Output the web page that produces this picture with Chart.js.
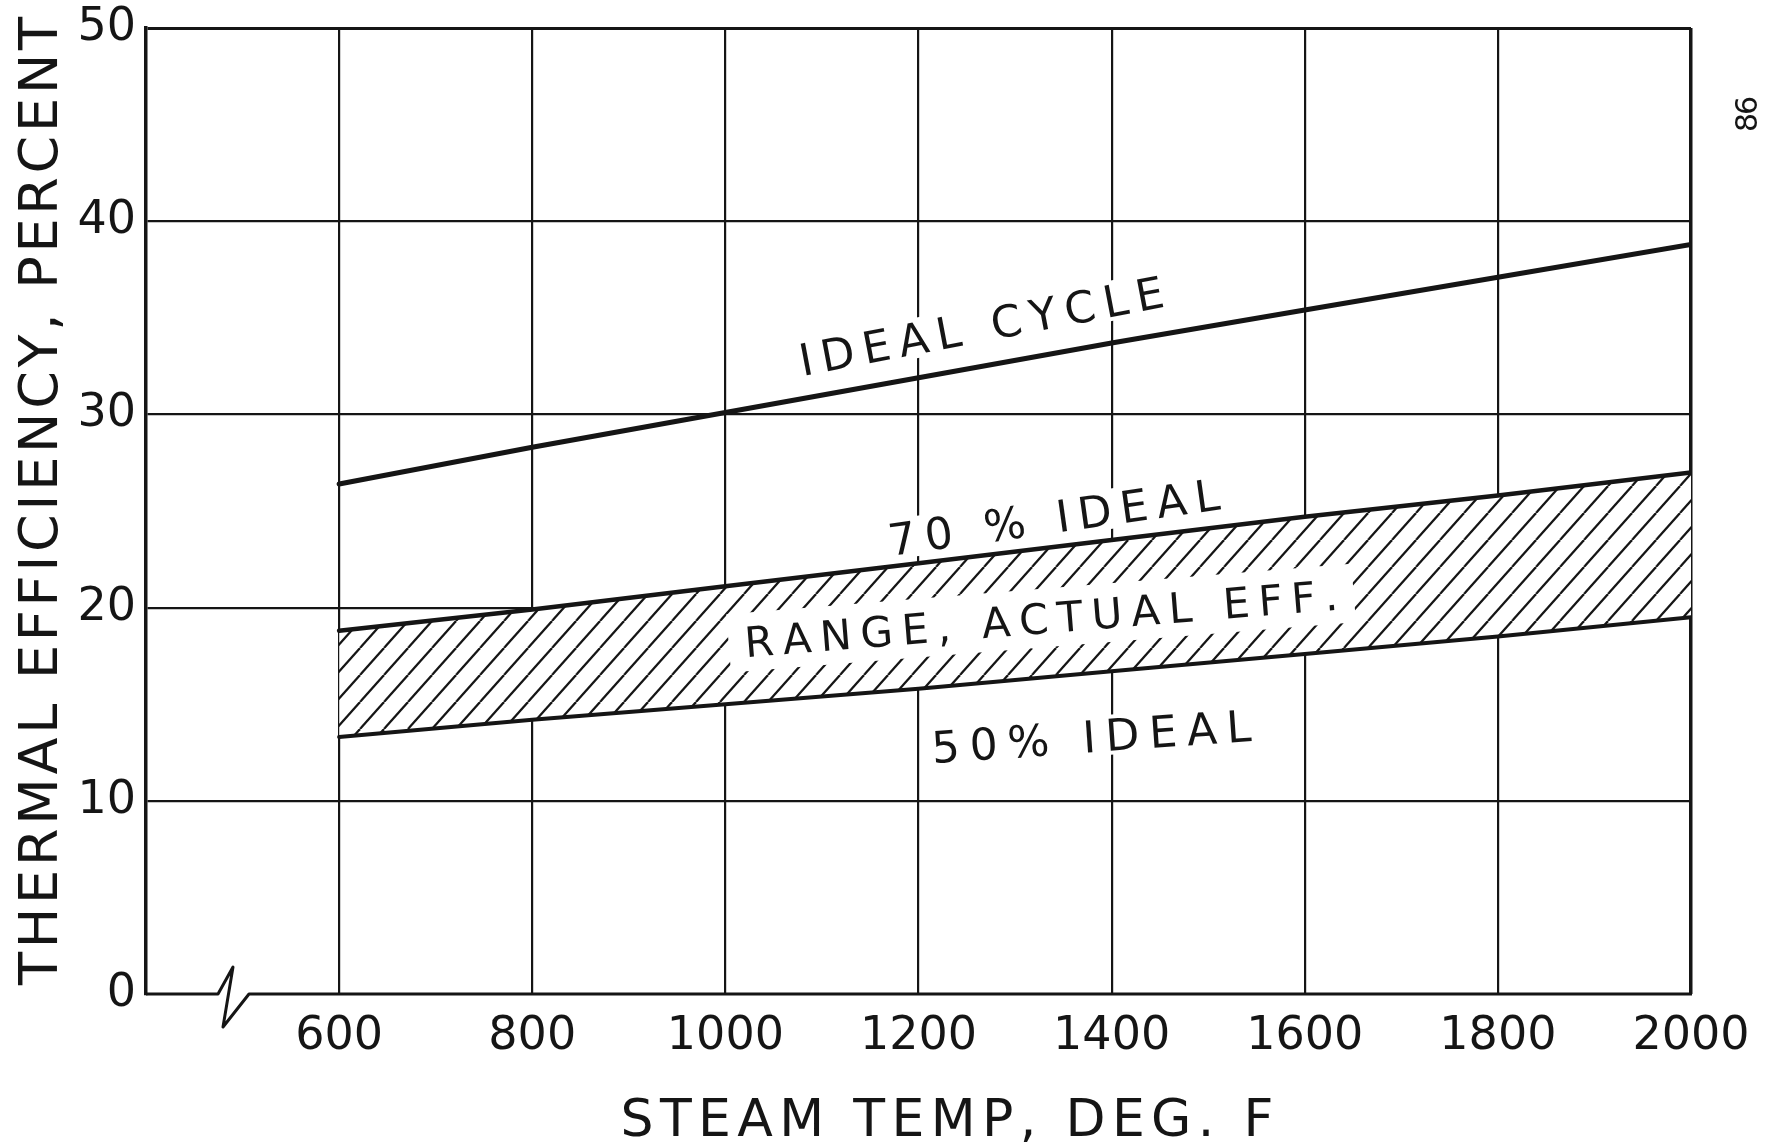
<!DOCTYPE html>
<html>
<head>
<meta charset="utf-8">
<script src="https://cdn.jsdelivr.net/npm/chart.js@4.4.1/dist/chart.umd.min.js"></script>
<style>
  html, body { margin: 0; padding: 0; background: #fff; }
  #wrap { width: 1776px; height: 1145px; }
</style>
</head>
<body>
<div id="wrap"><canvas id="chart" width="1776" height="1145"></canvas></div>
<script>
// steam temperature, deg F
const steamTemps = [600, 800, 1000, 1200, 1400, 1600, 1800, 2000];
// thermal efficiency, percent
const idealCycle = [26.4, 28.3, 30.1, 31.9, 33.7, 35.4, 37.1, 38.8];
const ideal70    = [18.8, 19.9, 21.1, 22.3, 23.5, 24.7, 25.8, 27.0];
const ideal50    = [13.3, 14.2, 15.0, 15.8, 16.7, 17.6, 18.5, 19.5];
// axes
const xTickLabels = [600, 800, 1000, 1200, 1400, 1600, 1800, 2000];
const yTickLabels = [0, 10, 20, 30, 40, 50];

const INK = '#151515';
const FONT = '"DejaVu Sans", "Liberation Sans", sans-serif';

const canvas = document.getElementById('chart');
const ctx = canvas.getContext('2d');

// white-backed diagonal hatching for the actual-efficiency band
function makeHatch() {
  const w = 24, h = 27;
  const tile = document.createElement('canvas');
  tile.width = w; tile.height = h;
  const g = tile.getContext('2d');
  g.fillStyle = '#fff';
  g.fillRect(0, 0, w, h);
  g.strokeStyle = INK;
  g.lineWidth = 2.2;
  for (let k = -1; k <= 1; k++) {
    g.beginPath();
    g.moveTo(k * w, h);
    g.lineTo(k * w + w, 0);
    g.stroke();
  }
  return ctx.createPattern(tile, 'repeat');
}

function pts(ys) {
  return steamTemps.map((t, i) => ({ x: t, y: ys[i] }));
}

// letter-spaced text, centred on (cx, cy), stretched to a given width
function spacedText(c, text, cx, cy, angle, width, size, box) {
  c.save();
  c.translate(cx, cy);
  c.rotate(angle * Math.PI / 180);
  c.font = size + 'px ' + FONT;
  if (box) {
    const capH = size * 0.73;
    c.fillStyle = '#fff';
    c.fillRect(-width / 2 - box[0], -capH / 2 - box[1], width + 2 * box[0], capH + 2 * box[1]);
  } else {
    c.fillStyle = INK;
    c.textAlign = 'left';
    c.textBaseline = 'alphabetic';
    const chars = [...text];
    const ws = chars.map(ch => c.measureText(ch).width);
    const total = ws.reduce((a, b) => a + b, 0);
    const gap = chars.length > 1 ? (width - total) / (chars.length - 1) : 0;
    let x = -width / 2;
    const base = size * 0.73 / 2;
    chars.forEach((ch, i) => { c.fillText(ch, x, base); x += ws[i] + gap; });
  }
  c.restore();
}

// curve labels, anchored in data units
const curveLabels = [
  { text: 'IDEAL CYCLE',        t: 1265, v: 34.6,  angle: -10.8, width: 370, size: 44, box: [8, 4] },
  { text: '70 % IDEAL',         t: 1340, v: 24.7,  angle: -8.0,  width: 334, size: 44, box: [8, 4] },
  { text: 'RANGE, ACTUAL EFF.', t: 1327, v: 19.45, angle: -4.6,  width: 595, size: 42, box: [16, 14] },
  { text: '50% IDEAL',          t: 1379, v: 13.35, angle: -4.0,  width: 320, size: 44, box: [8, 4] }
];

const annotate = {
  id: 'annotate',
  beforeDatasetsDraw(chart) {
    const { x, y } = chart.scales;
    curveLabels.forEach(l => {
      spacedText(chart.ctx, l.text, x.getPixelForValue(l.t), y.getPixelForValue(l.v),
        l.angle, l.width, l.size, l.box);
    });
  },
  afterDatasetsDraw(chart) {
    const { x, y } = chart.scales;
    const c = chart.ctx;
    curveLabels.forEach(l => {
      spacedText(c, l.text, x.getPixelForValue(l.t), y.getPixelForValue(l.v),
        l.angle, l.width, l.size, null);
    });
  },
  afterDraw(chart) {
    const c = chart.ctx;
    const { left, right } = chart.chartArea;
    const y0 = chart.scales.y.getPixelForValue(0);

    // bottom axis with the scale-break zigzag
    c.save();
    c.strokeStyle = INK;
    c.lineWidth = 3;
    c.lineJoin = 'round';
    c.beginPath();
    c.moveTo(left, y0);
    c.lineTo(left + 72, y0);
    c.lineTo(left + 87, y0 - 27);
    c.lineTo(left + 77, y0 + 33);
    c.lineTo(left + 103, y0);
    c.lineTo(right + 1, y0);
    c.stroke();
    c.restore();

    // axis titles
    spacedText(c, 'THERMAL EFFICIENCY, PERCENT', 37, 501, -90, 968, 54, null);
    spacedText(c, 'STEAM TEMP, DEG. F', 947, 1117, 0, 653, 52, null);

    // drawing number stamp
    spacedText(c, '86', 1746, 114, -90, 36, 30, null);
  }
};

new Chart(ctx, {
  type: 'line',
  data: {
    datasets: [
      { label: 'Ideal cycle', data: pts(idealCycle), borderColor: INK, borderWidth: 5, fill: false },
      { label: '70% ideal', data: pts(ideal70), borderColor: INK, borderWidth: 4.5,
        fill: '+1', backgroundColor: makeHatch() },
      { label: '50% ideal', data: pts(ideal50), borderColor: INK, borderWidth: 4, fill: false }
    ]
  },
  options: {
    responsive: false,
    animation: false,
    devicePixelRatio: 1,
    layout: { padding: { left: 0, top: 28, right: 85, bottom: 0 } },
    elements: { point: { radius: 0 }, line: { tension: 0, borderCapStyle: 'round' } },
    plugins: {
      legend: { display: false },
      tooltip: { enabled: false },
      filler: { drawTime: 'beforeDatasetsDraw' }
    },
    scales: {
      x: {
        type: 'linear',
        min: 400,
        max: 2000,
        afterFit: s => { s.height = 151; s.paddingLeft = 0; s.paddingRight = 0; },
        afterBuildTicks: s => { s.ticks = [400].concat(xTickLabels).map(v => ({ value: v })); },
        ticks: {
          padding: 15,
          color: INK,
          font: { family: FONT, size: 46 },
          maxRotation: 0,
          callback: v => (xTickLabels.includes(v) ? String(v) : '')
        },
        grid: {
          drawTicks: false,
          color: c => (c.tick && c.tick.value === 400 ? 'rgba(0,0,0,0)' : INK),
          lineWidth: c => (c.tick && c.tick.value === 2000 ? 3.5 : 2.2)
        },
        border: { display: false }
      },
      y: {
        min: 0,
        max: 50,
        afterFit: s => { s.width = 146; s.paddingTop = 0; s.paddingBottom = 0; },
        afterBuildTicks: s => { s.ticks = yTickLabels.map(v => ({ value: v })); },
        ticks: {
          padding: 10,
          color: INK,
          font: { family: FONT, size: 46, lineHeight: 1 },
          callback: v => String(v)
        },
        grid: {
          drawTicks: false,
          color: c => (c.tick && c.tick.value === 0 ? 'rgba(0,0,0,0)' : INK),
          lineWidth: c => (c.tick && c.tick.value === 50 ? 3 : 2.2)
        },
        border: { display: true, color: INK, width: 3.5 }
      }
    }
  },
  plugins: [annotate]
});
</script>
</body>
</html>
